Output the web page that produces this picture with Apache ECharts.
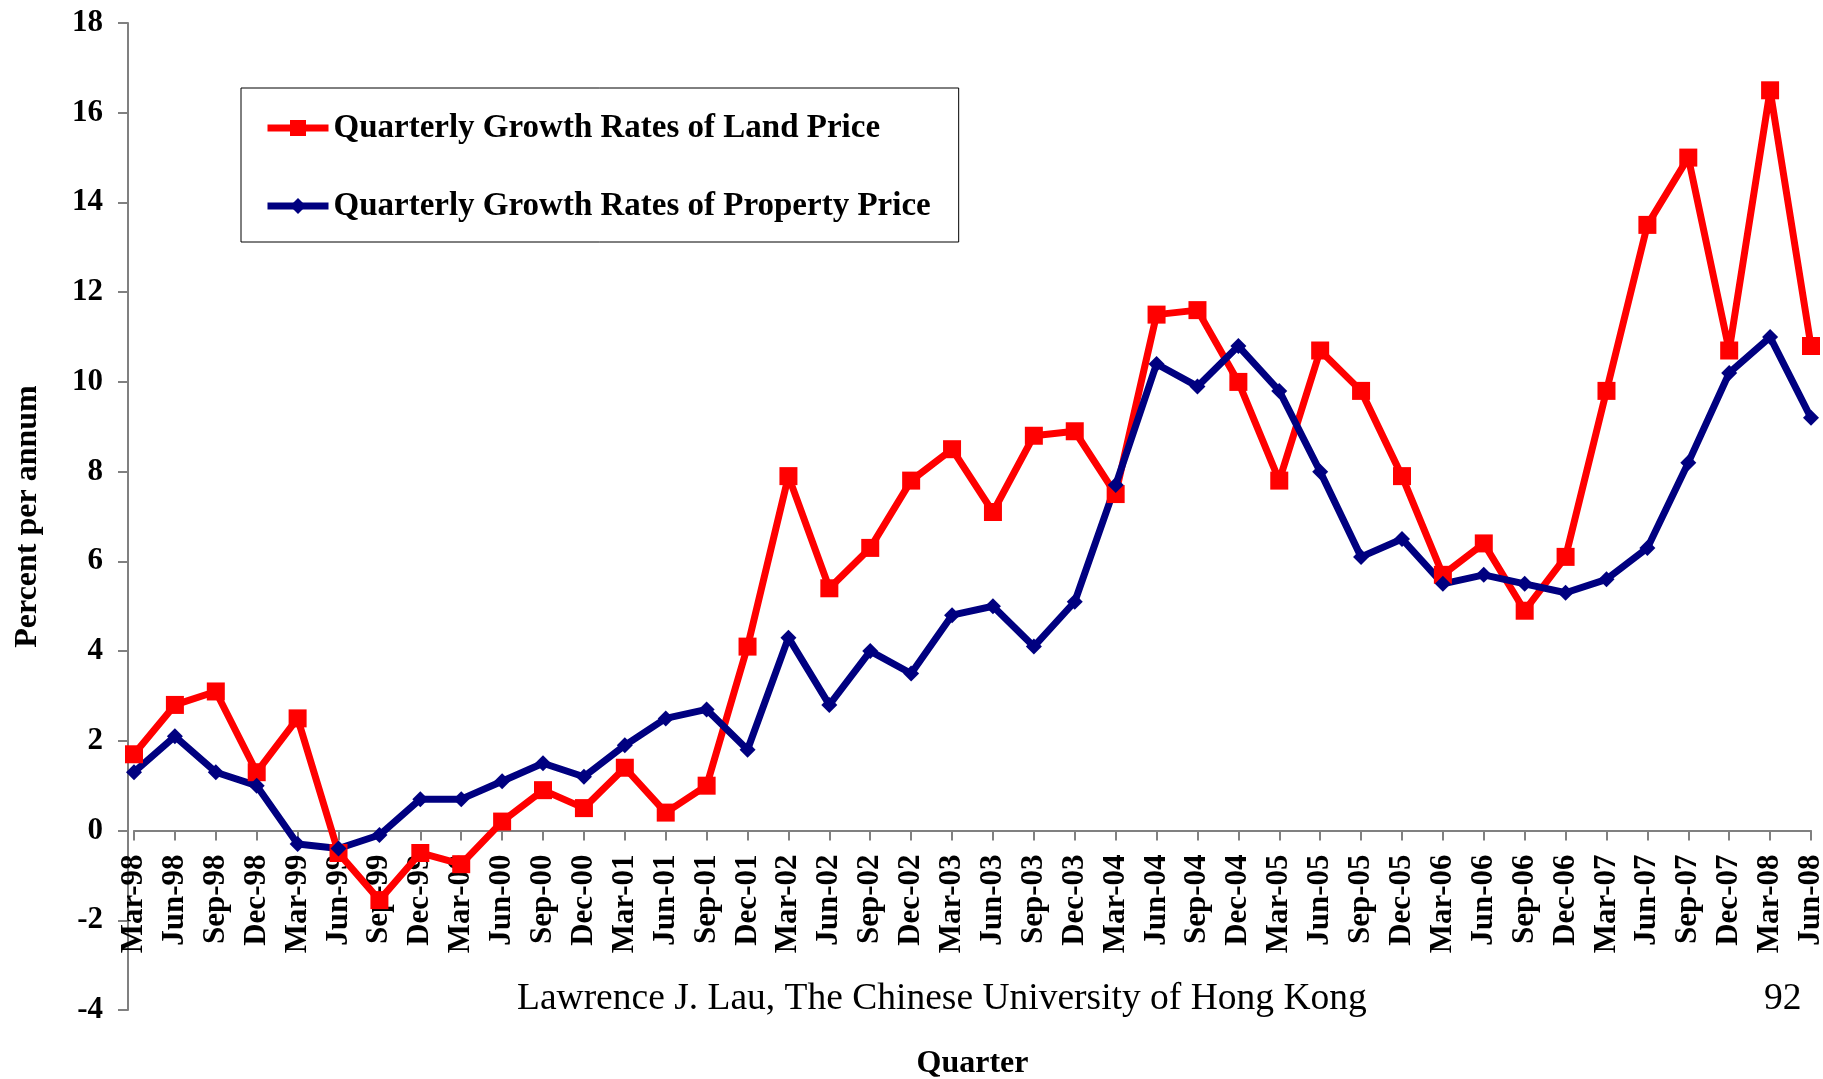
<!DOCTYPE html>
<html>
<head>
<meta charset="utf-8">
<script src="https://cdn.jsdelivr.net/npm/echarts@6/dist/echarts.min.js"></script>
<style>
  html, body { margin: 0; padding: 0; background: #fff; }
  #main { width: 1823px; height: 1079px; }
</style>
</head>
<body>
<div id="main"></div>
<script>
// quarters, Mar-98 .. Jun-08
var quarters = ['Mar-98', 'Jun-98', 'Sep-98', 'Dec-98', 'Mar-99', 'Jun-99', 'Sep-99', 'Dec-99',
    'Mar-00', 'Jun-00', 'Sep-00', 'Dec-00', 'Mar-01', 'Jun-01', 'Sep-01', 'Dec-01',
    'Mar-02', 'Jun-02', 'Sep-02', 'Dec-02', 'Mar-03', 'Jun-03', 'Sep-03', 'Dec-03',
    'Mar-04', 'Jun-04', 'Sep-04', 'Dec-04', 'Mar-05', 'Jun-05', 'Sep-05', 'Dec-05',
    'Mar-06', 'Jun-06', 'Sep-06', 'Dec-06', 'Mar-07', 'Jun-07', 'Sep-07', 'Dec-07',
    'Mar-08', 'Jun-08'];

var landPrice = [1.7, 2.8, 3.1, 1.3, 2.5, -0.5, -1.55, -0.5,
    -0.75, 0.2, 0.9, 0.5, 1.4, 0.4, 1.0, 4.1,
    7.9, 5.4, 6.3, 7.8, 8.5, 7.1, 8.8, 8.9,
    7.5, 11.5, 11.6, 10.0, 7.8, 10.7, 9.8, 7.9,
    5.7, 6.4, 4.9, 6.1, 9.8, 13.5, 15.0, 10.7,
    16.5, 10.8];

var propertyPrice = [1.3, 2.1, 1.3, 1.0, -0.3, -0.4, -0.1, 0.7,
    0.7, 1.1, 1.5, 1.2, 1.9, 2.5, 2.7, 1.8,
    4.3, 2.8, 4.0, 3.5, 4.8, 5.0, 4.1, 5.1,
    7.7, 10.4, 9.9, 10.8, 9.8, 8.0, 6.1, 6.5,
    5.5, 5.7, 5.5, 5.3, 5.6, 6.3, 8.2, 10.2,
    11.0, 9.2];

var seriesNames = ['Quarterly Growth Rates of Land Price', 'Quarterly Growth Rates of Property Price'];

var serif = '"Liberation Serif", "Times New Roman", serif';

// plot area: top 23, bottom 69 -> zero line sits 4/22 of the height above the bottom
var gridTop = 23, gridBottom = 69;
var zeroOffset = -(1079 - gridTop - gridBottom) * 4 / 22;

var option = {
    animation: false,
    backgroundColor: '#fff',
    grid: {
        left: 134,
        right: 12,
        top: gridTop,
        bottom: gridBottom,
        containLabel: false,
        outerBoundsMode: 'none'
    },
    legend: {
        orient: 'vertical',
        left: 241,
        top: 88,
        padding: [22, 28, 18, 23],
        itemGap: 42,
        itemWidth: 61,
        itemHeight: 20,
        borderColor: '#000',
        borderWidth: 1,
        lineStyle: { width: 7 },
        textStyle: {
            fontFamily: serif,
            fontWeight: 'bold',
            fontSize: 33,
            color: '#000',
            lineHeight: 36
        },
        data: seriesNames
    },
    xAxis: {
        type: 'category',
        data: quarters,
        boundaryGap: false,
        position: 'bottom',
        offset: zeroOffset,
        name: 'Quarter',
        nameLocation: 'middle',
        nameGap: 217,
        nameTextStyle: {
            fontFamily: serif,
            fontWeight: 'bold',
            fontSize: 32,
            color: '#000'
        },
        axisLine: { onZero: false, lineStyle: { color: '#808080', width: 2 } },
        axisTick: { show: true, length: 10, interval: 0, lineStyle: { color: '#808080', width: 2 } },
        axisLabel: {
            interval: 0,
            rotate: 90,
            margin: 24,
            fontFamily: serif,
            fontWeight: 'bold',
            fontSize: 31,
            color: '#000'
        },
        splitLine: { show: false }
    },
    yAxis: {
        type: 'value',
        min: -4,
        max: 18,
        interval: 2,
        offset: 6,
        name: 'Percent per annum',
        nameLocation: 'middle',
        nameRotate: 90,
        nameGap: 84,
        nameTextStyle: {
            fontFamily: serif,
            fontWeight: 'bold',
            fontSize: 32,
            color: '#000'
        },
        axisLine: { show: true, lineStyle: { color: '#808080', width: 2 } },
        axisTick: { show: true, inside: false, length: 10, lineStyle: { color: '#808080', width: 2 } },
        axisLabel: {
            margin: 25,
            fontFamily: serif,
            fontWeight: 'bold',
            fontSize: 31,
            color: '#000'
        },
        splitLine: { show: false }
    },
    series: [
        {
            name: seriesNames[0],
            type: 'line',
            data: landPrice,
            symbol: 'rect',
            symbolSize: 18,
            showAllSymbol: true,
            color: '#FF0000',
            lineStyle: { color: '#FF0000', width: 7 },
            itemStyle: { color: '#FF0000' }
        },
        {
            name: seriesNames[1],
            type: 'line',
            data: propertyPrice,
            symbol: 'diamond',
            symbolSize: 16,
            showAllSymbol: true,
            color: '#000080',
            lineStyle: { color: '#000080', width: 7 },
            itemStyle: { color: '#000080' }
        }
    ],
    graphic: [
        {
            type: 'text',
            left: 517,
            top: 980,
            style: {
                text: 'Lawrence J. Lau, The Chinese University of Hong Kong',
                fontFamily: serif,
                fontSize: 37.5,
                fill: '#000'
            }
        },
        {
            type: 'text',
            left: 1764,
            top: 980,
            style: {
                text: '92',
                fontFamily: serif,
                fontSize: 37.5,
                fill: '#000'
            }
        }
    ]
};

var chart = echarts.init(document.getElementById('main'));
chart.setOption(option);
</script>
</body>
</html>
